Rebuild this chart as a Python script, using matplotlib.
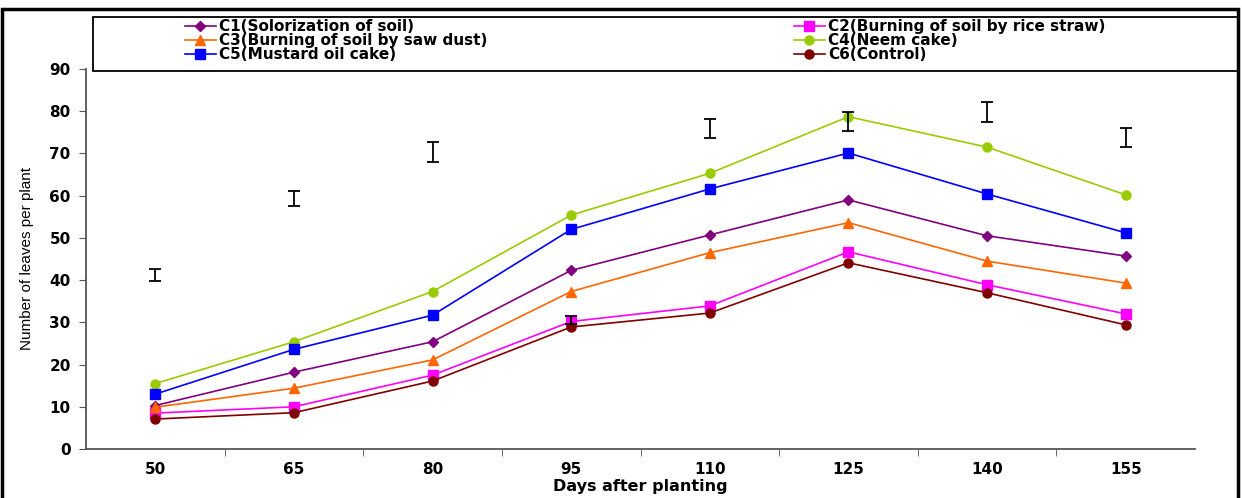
import matplotlib
matplotlib.use('Agg')
import matplotlib.pyplot as plt
from matplotlib.patches import Rectangle

plt.rcParams['font.family'] = ['DejaVu Sans']

days = ['50', '65', '80', '95', '110', '125', '140', '155']
c1 = [10.3, 18.2, 25.4, 42.3, 50.7, 59.0, 50.5, 45.7]
c2 = [8.5, 10.0, 17.5, 30.2, 33.9, 46.7, 38.9, 32.0]
c3 = [9.9, 14.4, 21.1, 37.3, 46.5, 53.6, 44.5, 39.3]
c4 = [15.5, 25.4, 37.3, 55.4, 65.3, 78.7, 71.5, 60.2]
c5 = [13.0, 23.6, 31.7, 52.0, 61.6, 70.1, 60.4, 51.2]
c6 = [7.1, 8.6, 16.1, 28.9, 32.2, 44.1, 37.0, 29.4]
err_center = [41.2, 59.4, 70.3, 30.5, 75.8, 77.5, 79.8, 73.8]
err_half = [1.4, 1.8, 2.3, 1.0, 2.25, 2.3, 2.35, 2.2]

names = ['C1(Solorization of soil)', 'C2(Burning of soil by rice straw)',
         'C3(Burning of soil by saw dust)', 'C4(Neem cake)',
         'C5(Mustard oil cake)', 'C6(Control)']
colors = ['#800080', '#FF00FF', '#FF6600', '#99CC00', '#0000FF', '#800000']
markers = ['D', 's', '^', 'o', 's', 'o']
msizes = [5.5, 6.5, 7.5, 6.5, 6.5, 6.5]

W, H = 1242, 498
fig = plt.figure(figsize=(W / 100, H / 100), dpi=100)
ax = fig.add_axes([86 / W, 49 / H, (1195 - 86) / W, (449 - 69) / H])

x = list(range(len(days)))
handles = []
for vals, name, col, mk, ms in zip([c1, c2, c3, c4, c5, c6], names, colors, markers, msizes):
    h, = ax.plot(x, vals, color=col, marker=mk, markersize=ms, linewidth=1.2, label=name)
    handles.append(h)

ax.errorbar(x, err_center, yerr=err_half, fmt='none', ecolor='black',
            elinewidth=1.3, capsize=4.5, capthick=1.3)

ax.set_xlim(-0.5, len(days) - 0.5)
ax.set_ylim(0, 90)
ax.set_yticks(range(0, 91, 10))
ax.set_xticks(x)
ax.set_xticklabels(days, fontsize=11, fontweight='bold')
ax.set_xticks([i + 0.5 for i in x[:-1]], minor=True)
ax.tick_params(axis='x', which='major', length=0, pad=9)
ax.tick_params(axis='x', which='minor', length=5, color='#555555')
ax.tick_params(axis='y', length=5, color='#555555', labelsize=11, pad=6)
for lbl in ax.get_yticklabels():
    lbl.set_fontweight('bold')
for s in ['top', 'right']:
    ax.spines[s].set_visible(False)
for s in ['left', 'bottom']:
    ax.spines[s].set_color('#555555')
    ax.spines[s].set_linewidth(1.3)

ax.set_xlabel('Days after planting', fontsize=11.5, fontweight='bold')
ax.xaxis.set_label_coords(0.5, (449 - 479) / 380)
ax.set_ylabel('Number of leaves per plant', fontsize=11, family='Liberation Sans')
ax.yaxis.set_label_coords((34 - 86) / 1109, 0.5)

# outer frame and legend box
fig.add_artist(Rectangle((2 / W, -0.05), 1236 / W, 1.05 - 9 / H,
                         transform=fig.transFigure, fill=False, edgecolor='black', linewidth=2.5))
fig.add_artist(Rectangle((93 / W, 1 - 71 / H), (1238 - 93) / W, 54 / H,
                         transform=fig.transFigure, fill=False, edgecolor='black', linewidth=1.3))

leg_kw = dict(loc='upper left', frameon=False, handlelength=2.0, handletextpad=0.25,
              labelspacing=-0.05, borderpad=0.0, borderaxespad=0.0,
              prop={'weight': 'bold', 'size': 11})
fig.legend([handles[i] for i in (0, 2, 4)], [names[i] for i in (0, 2, 4)],
           bbox_to_anchor=(185 / W, 1 - 19 / H), **leg_kw)
fig.legend([handles[i] for i in (1, 3, 5)], [names[i] for i in (1, 3, 5)],
           bbox_to_anchor=(794 / W, 1 - 19 / H), **leg_kw)

fig.savefig('out.png', dpi=100)
